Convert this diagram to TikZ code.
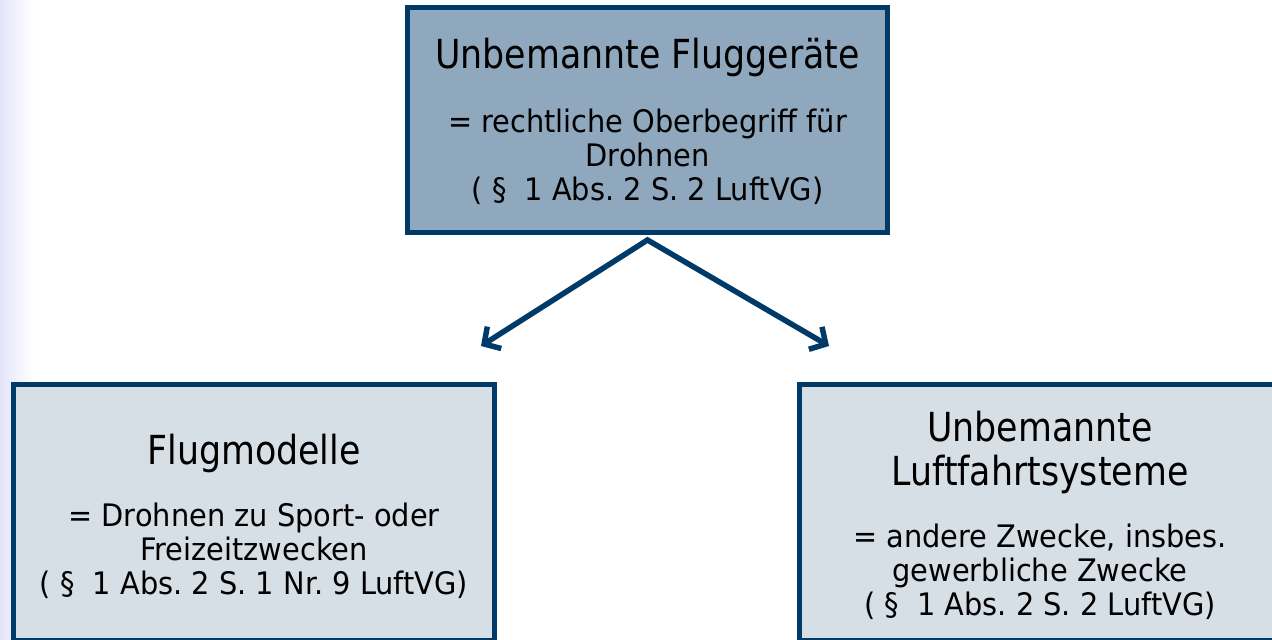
\documentclass[tikz,border=0pt]{standalone}
\usepackage{fontspec}
\setmainfont{DejaVu Sans}[FakeStretch=0.87]
\newfontfamily\bodyfamily{DejaVu Sans}[FakeStretch=0.93]
\usetikzlibrary{arrows.meta,positioning}
\definecolor{framenavy}{RGB}{0,58,104}
\definecolor{topfill}{RGB}{143,168,190}
\definecolor{subfill}{RGB}{214,222,230}
\definecolor{edgetint}{RGB}{228,228,250}
\tikzset{
  topbox/.style={draw=framenavy,fill=topfill,line width=5pt,minimum width=480pt,minimum height=225pt,inner sep=0pt},
  subbox/.style={draw=framenavy,fill=subfill,line width=5pt,minimum width=481pt,minimum height=256pt,inner sep=0pt},
  headline/.style={font=\fontsize{40}{44}\selectfont,anchor=base,align=center,inner sep=0pt},
  bodyline/.style={font=\bodyfamily\fontsize{31}{34}\selectfont,anchor=base,align=center,inner sep=0pt},
  branch/.style={draw=framenavy,line width=5.5pt,{Straight Barb[length=12pt,width=26pt]}-{Straight Barb[length=12pt,width=26pt]}}
}
\frenchspacing
\begin{document}
\begin{tikzpicture}[x=1pt,y=1pt]
  \useasboundingbox (0,0) rectangle (1272,-640);
  \clip (0,0) rectangle (1272,-640);
  \shade[left color=edgetint,right color=white] (0,0) rectangle (34,-640);
  % the three boxes
  \node[topbox] (geraete) at (647.5,-120) {};
  \node[subbox] (modelle) at (254,-512) {};
  \node[subbox] (systeme) at (1040,-512) {};
  % texts (base = last line)
  \node[headline] (geraetehead) at (647.5,-68) {Unbemannte Fluggeräte};
  \node[bodyline] (geraetebody) at (647.5,-200) {= rechtliche Oberbegriff für\\Drohnen\\( §~ 1 Abs. 2 S. 2 LuftVG)};
  \node[headline] (modellehead) at (254,-464) {Flugmodelle};
  \node[bodyline] (modellebody) at (254,-594) {= Drohnen zu Sport- oder\\Freizeitzwecken\\( §~ 1 Abs. 2 S. 1 Nr. 9 LuftVG)};
  \node[headline] (systemehead) at (1040,-485) {Unbemannte\\Luftfahrtsysteme};
  \node[bodyline] (systemebody) at (1040,-615) {= andere Zwecke, insbes.\\gewerbliche Zwecke\\( §~ 1 Abs. 2 S. 2 LuftVG)};
  % fork
  \coordinate (fork) at ([yshift=-5pt]geraete.south);
  \coordinate (tipl) at (481,-346);
  \coordinate (tipr) at (829,-346);
  \draw[branch] (tipl) -- (fork) -- (tipr);
\end{tikzpicture}
\end{document}
